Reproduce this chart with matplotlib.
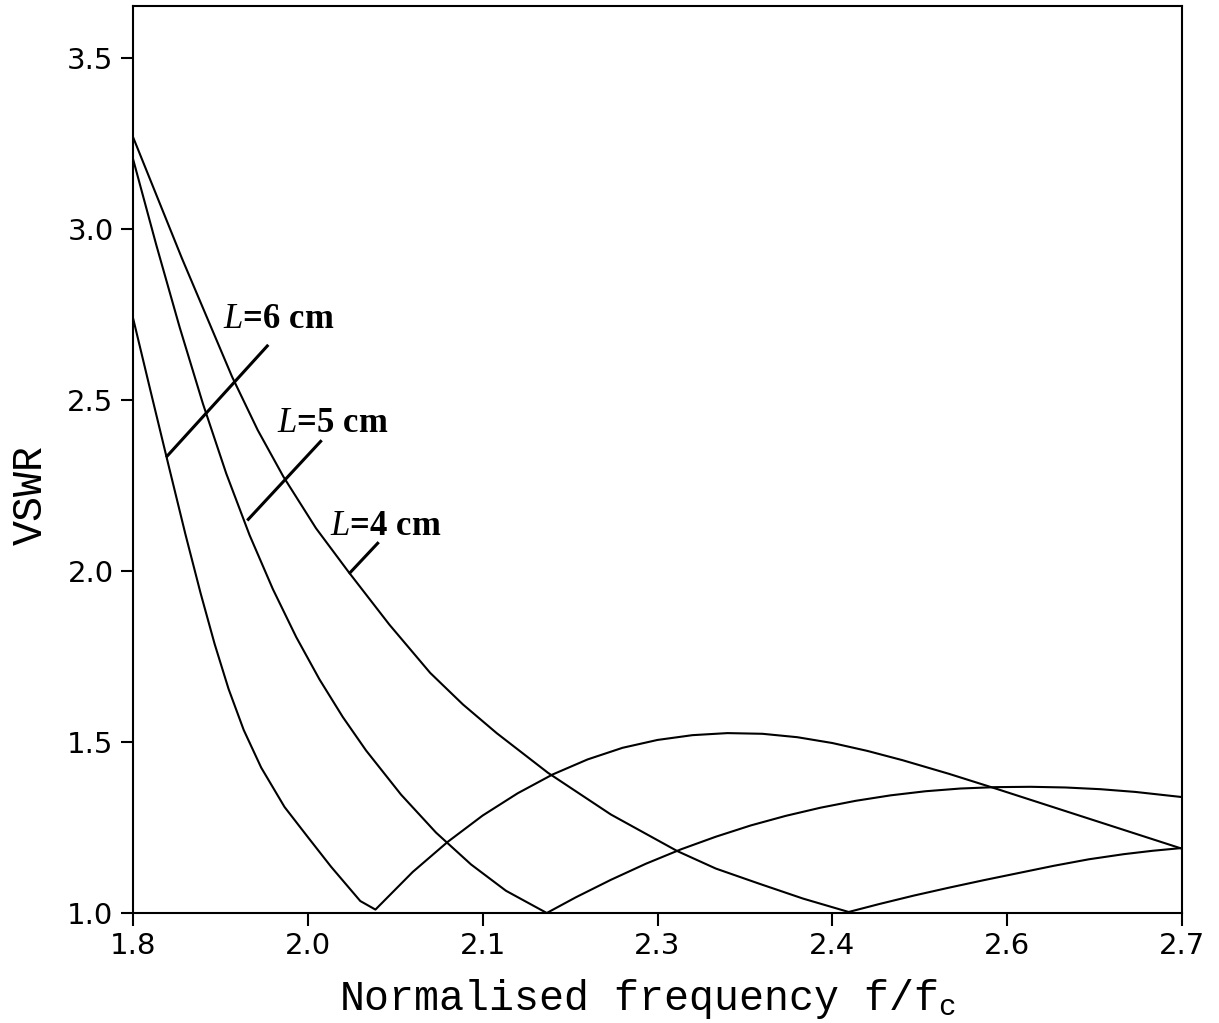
import numpy as np
import matplotlib
matplotlib.use("Agg")
import matplotlib.pyplot as plt

# VSWR vs normalised frequency
f_6cm = [1.800, 1.815, 1.830, 1.845, 1.858, 1.870, 1.882, 1.895, 1.910, 1.930, 1.950,
         1.970, 1.985, 1.995, 2.008, 2.040, 2.070, 2.100, 2.130, 2.160, 2.190, 2.220,
         2.250, 2.280, 2.310, 2.340, 2.370, 2.400, 2.430, 2.460, 2.500, 2.540, 2.580,
         2.620, 2.660, 2.700]
vswr_6cm = [2.740, 2.527, 2.316, 2.107, 1.935, 1.787, 1.655, 1.535, 1.425, 1.310, 1.222,
            1.135, 1.075, 1.035, 1.010, 1.120, 1.208, 1.285, 1.350, 1.405, 1.449, 1.483,
            1.506, 1.520, 1.526, 1.524, 1.514, 1.497, 1.474, 1.447, 1.407, 1.364, 1.320,
            1.276, 1.232, 1.188]

f_5cm = [1.800, 1.820, 1.840, 1.860, 1.880, 1.900, 1.920, 1.940, 1.960, 1.980, 2.000,
         2.030, 2.060, 2.090, 2.120, 2.155, 2.180, 2.210, 2.240, 2.270, 2.300, 2.330,
         2.360, 2.390, 2.420, 2.450, 2.480, 2.510, 2.540, 2.570, 2.600, 2.630, 2.660, 2.700]
vswr_5cm = [3.205, 2.953, 2.713, 2.489, 2.285, 2.105, 1.947, 1.807, 1.683, 1.573, 1.475,
            1.346, 1.235, 1.142, 1.065, 1.000, 1.046, 1.097, 1.144, 1.186, 1.223, 1.256,
            1.284, 1.308, 1.328, 1.344, 1.356, 1.364, 1.368, 1.369, 1.367, 1.362, 1.354, 1.339]

f_4cm = [1.800, 1.842, 1.885, 1.907, 1.929, 1.957, 1.985, 2.020, 2.055, 2.083, 2.112,
         2.156, 2.210, 2.267, 2.300, 2.337, 2.375, 2.414, 2.440, 2.470, 2.500, 2.530,
         2.560, 2.590, 2.620, 2.650, 2.675, 2.700]
vswr_4cm = [3.269, 2.914, 2.568, 2.412, 2.276, 2.125, 1.997, 1.843, 1.702, 1.610, 1.526,
            1.410, 1.288, 1.181, 1.130, 1.086, 1.042, 1.003, 1.026, 1.051, 1.074, 1.096,
            1.117, 1.138, 1.157, 1.172, 1.182, 1.190]

xtick_labels = ["1.8", "2.0", "2.1", "2.3", "2.4", "2.6", "2.7"]
ytick_vals = [1.0, 1.5, 2.0, 2.5, 3.0, 3.5]

plt.rcParams['mathtext.fontset'] = 'custom'
plt.rcParams['mathtext.rm'] = 'Liberation Mono'
plt.rcParams['mathtext.it'] = 'Liberation Serif:italic'

fig = plt.figure(figsize=(12.19, 10.23), dpi=100)
ax = fig.add_axes([133/1219, 110/1023, 1049/1219, 907/1023])

for f, v in [(f_6cm, vswr_6cm), (f_5cm, vswr_5cm), (f_4cm, vswr_4cm)]:
    ax.plot(f, v, color='black', lw=1.5)

# label pointers
ax.plot([1.8293, 1.9152], [2.336, 2.658], color='black', lw=2.2)
ax.plot([1.8989, 1.9610], [2.151, 2.379], color='black', lw=2.2)
ax.plot([1.9862, 2.0099], [1.995, 2.081], color='black', lw=2.2)

lab = dict(family='Liberation Serif', fontweight='bold', fontsize=25, ha='left', va='baseline')
ax.text(1.8772, 2.710, "$L$=6 cm", **lab)
ax.text(1.9233, 2.407, "$L$=5 cm", **lab)
ax.text(1.9690, 2.105, "$L$=4 cm", **lab)

ax.set_xlim(1.8, 2.7)
ax.set_ylim(1.0, 3.652)
ax.set_xticks(np.linspace(1.8, 2.7, len(xtick_labels)))
ax.set_xticklabels(xtick_labels)
ax.set_yticks(ytick_vals)
ax.set_yticklabels(["%.1f" % v for v in ytick_vals])
ax.tick_params(direction='out', length=9, width=1.5, labelsize=21, pad=5)

for s in ax.spines.values():
    s.set_linewidth(1.5)

ax.set_xlabel(r"Normalised frequency f/f$_\mathrm{c}$", family='Liberation Mono',
              fontsize=30, labelpad=12)
ax.set_ylabel("VSWR", family='Liberation Mono', fontsize=30, labelpad=12)
ax.xaxis.label.set_x(0.4905)
ax.yaxis.label.set_y(0.461)

plt.savefig("out.png", dpi=100)
